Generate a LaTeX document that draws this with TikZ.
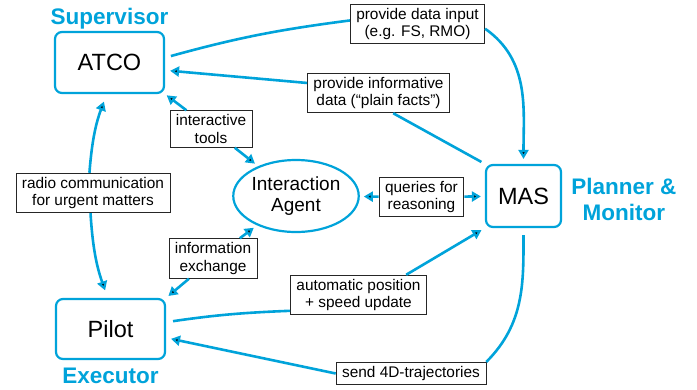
\documentclass[tikz,border=0pt]{standalone}
\usepackage{fontspec}
\setmainfont{Liberation Sans}
\usetikzlibrary{arrows.meta,positioning,shapes}
\definecolor{roleblue}{RGB}{0,163,218}

\begin{document}
\begin{tikzpicture}[x=1pt,y=1pt,>={Triangle[length=9pt,width=10pt]},
    agent/.style={draw=roleblue,line width=2.2pt,rounded corners=7pt,
                  minimum height=61pt,inner sep=0pt,
                  font=\fontsize{23.5}{26}\selectfont},
    iagent/.style={ellipse,draw=roleblue,line width=2.2pt,minimum width=118pt,
                   minimum height=72pt,inner sep=0pt,align=center,
                   font=\fontsize{19}{21}\selectfont},
    lbl/.style={draw=black!85,line width=0.8pt,fill=white,align=center,
                inner xsep=6pt,inner ysep=4pt,
                font=\fontsize{15.4}{17.3}\selectfont},
    role/.style={text=roleblue,inner sep=0pt,align=center,
                 font=\fontsize{22.5}{26}\selectfont\bfseries},
    link/.style={draw=roleblue,line width=2.6pt}]

        \useasboundingbox (0,0) rectangle (697,-389);

        % agents
        \node[agent,minimum width=109pt] (atco) at (109.5,-62.5) {ATCO};
        \node[agent,minimum width=109pt,minimum height=60pt] (pilot) at (110.5,-329) {Pilot};
        \node[agent,minimum width=75pt,minimum height=62pt] (mas) at (523.5,-196) {MAS};
        \node[iagent] (ia) at (296,-196) {Interaction\\Agent};

        % roles
        \node[role] (sup) [above=2pt of atco] {Supervisor};
        \node[role] (exe) [below=8pt of pilot] {Executor};
        \node[role] (pm) [right=9pt of mas,yshift=-3.5pt] {Planner \&\\Monitor};

        % labels
        \node[lbl] (din) at (417.5,-24) {provide data input\\(e.g. FS, RMO)};
        \node[lbl] (pf) at (378.5,-93) {provide informative\\data (“plain facts”)};
        \node[lbl] (it) at (211,-129) {interactive\\tools};
        \node[lbl] (rc) at (93,-193) {radio communication\\for urgent matters};
        \node[lbl] (ie) at (213,-258.5) {information\\exchange};
        \node[lbl] (qr) at (421.5,-197) {queries for\\reasoning};
        \node[lbl] (ap) at (358.5,-295) {automatic position\\+ speed update};
        \node[lbl] (s4) at (411,-373.5) {send 4D-trajectories};

        \path[link]
              (atco.5) edge [bend left=4,shorten <=6pt] (din.177)
              (din.-4) edge [->,out=-35,in=90,shorten >=5pt] (mas.north)
              (mas.north west) edge [shorten <=4pt] (pf.-54)
              (pf.172) edge [->,shorten >=5pt] (atco.-8)
              (it) edge [->,shorten >=2pt] (atco.south east)
                   edge [->,shorten >=4pt] (ia)
              (rc.100) edge [->,bend left=8,shorten >=8pt] (atco.-95)
              (rc.-97) edge [->,bend right=8,shorten >=8pt] (pilot.95)
              (ie) edge [->,shorten >=3pt] (pilot.north east)
                   edge [->,shorten >=4pt] (ia)
              (qr) edge [->,shorten >=4pt] (ia)
                   edge [->,shorten >=4pt] (mas)
              (pilot.7) edge [bend left=3,shorten <=7pt] (ap.193)
              (ap.23) edge [->,shorten >=4pt] (mas.south west)
              (mas.south) edge [out=-90,in=45,shorten <=7pt] (s4.north east)
              (s4.west) edge [->,shorten >=5pt] (pilot.-9)
              ;
\end{tikzpicture}
\end{document}
